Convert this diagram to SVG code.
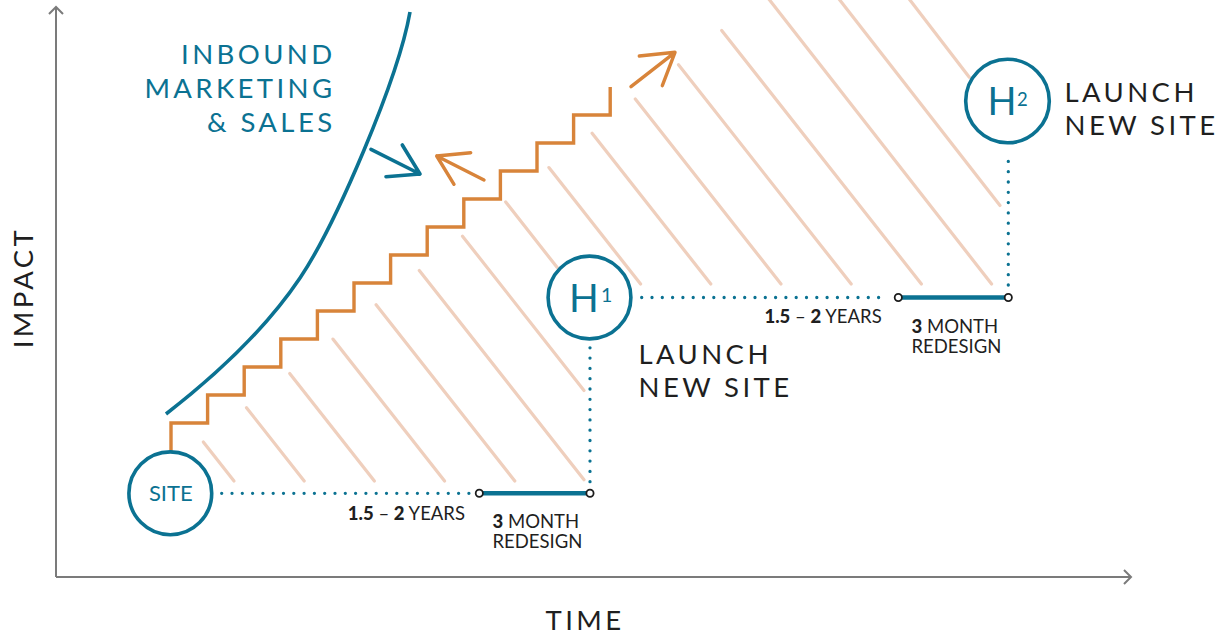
<svg xmlns="http://www.w3.org/2000/svg" width="1219" height="634" viewBox="0 0 1219 634">
<style>
.axis{fill:none;stroke:#7b7b7b;stroke-width:2}
.hatch line{stroke:#efcfbd;stroke-width:3.2;stroke-linecap:round}
.teal{fill:none;stroke:#0b7292;stroke-width:3.6}
.orange{fill:none;stroke:#d8843a;stroke-width:3.4}
.arrow{stroke-linecap:round;stroke-linejoin:round}
.dots{fill:none;stroke:#0b7292;stroke-width:3.3;stroke-linecap:round;stroke-dasharray:0 10.3}
.bar{stroke:#0b7292;stroke-width:4.6}
.end{fill:#fff;stroke:#1c1c1c;stroke-width:1.8}
.node{fill:#fff;stroke:#0b7292;stroke-width:3.6}
.big{font-family:Lato,"Liberation Sans",sans-serif;font-size:27.5px;letter-spacing:3.4px}
.dark{fill:#1f1f1f}
.tealtxt{fill:#0b7292}
.small{font-family:Lato,"Liberation Sans",sans-serif;font-size:18.5px;fill:#1f1f1f}
.b{font-weight:900}
.hnode{font-family:Lato,"Liberation Sans",sans-serif;fill:#0b7292}
</style>
<g id="axes">
<path class="axis" d="M56,577 V7 M49,14 L56,7 L63,14"/>
<path class="axis" d="M56,577 H1131 M1124,570 L1131,577 L1124,584"/>
<text class="big dark" transform="translate(33.3,287.5) rotate(-90)" text-anchor="middle">IMPACT</text>
<text class="big dark" x="585" y="630" text-anchor="middle">TIME</text>
</g>
<g id="hatch" class="hatch">
<line x1="203.3" y1="442" x2="234" y2="481"/>
<line x1="246.5" y1="407.7" x2="304.2" y2="481"/>
<line x1="289.7" y1="373.4" x2="374.4" y2="481"/>
<line x1="332.9" y1="339.1" x2="444.6" y2="481"/>
<line x1="376.1" y1="304.8" x2="514.8" y2="481"/>
<line x1="419.3" y1="270.5" x2="584" y2="479.7"/>
<line x1="462.5" y1="236.2" x2="584" y2="390.5"/>
<line x1="505.7" y1="201.9" x2="557" y2="267.3"/>
<line x1="548.9" y1="167.6" x2="640.6" y2="284"/>
<line x1="592.1" y1="133.3" x2="710.8" y2="284"/>
<line x1="635.3" y1="99" x2="781" y2="284"/>
<line x1="678.5" y1="64.7" x2="851.2" y2="284"/>
<line x1="721.7" y1="30.4" x2="921.4" y2="284"/>
<line x1="768" y1="-2" x2="991.6" y2="284"/>
<line x1="838.2" y1="-2" x2="1000" y2="205.5"/>
<line x1="908.4" y1="-2" x2="969.3" y2="77.3"/>
</g>
<g id="inbound-curve">
<path class="teal" d="M166,414 C215,376 265,330 300,278 S398,80 410,12"/>
<text class="big tealtxt" text-anchor="end"><tspan x="335.5" y="64">INBOUND</tspan><tspan x="335.5" y="98.3">MARKETING</tspan><tspan x="335.5" y="131.7">&amp; SALES</tspan></text>
</g>
<g id="stairs">
<path class="orange" d="M171,451 V423 H207.6 V395 H244.2 V367 H280.8 V339 H317.4 V311 H354 V283 H390.6 V255 H427.2 V227 H463.8 V199 H500.4 V171 H537 V143 H573.6 V115 H610.2 V87"/>
</g>
<g id="arrows">
<path class="teal arrow" d="M371,149.3 L420,174 M402.3,145 L420,174 L386,176.7"/>
<path class="orange arrow" d="M484,180 L436.7,156 M470.7,152.7 L436.7,156 L454,184.3"/>
<path class="orange arrow" d="M631,86.7 L675,52.3 M639.3,56 L675,52.3 L662.3,85.7"/>
</g>
<g id="connectors">
<path class="dots" d="M221.7,493.3 H470.5"/>
<path class="dots" d="M590,481.7 V347.3"/>
<path class="dots" d="M641.7,297.5 H888.4"/>
<path class="dots" d="M1008.3,285 V151.7"/>
<line class="bar" x1="479.3" y1="493.3" x2="590" y2="493.3"/>
<line class="bar" x1="898.3" y1="297.5" x2="1008.3" y2="297.5"/>
<circle class="end" cx="479.3" cy="493.3" r="3.6"/>
<circle class="end" cx="590" cy="493.3" r="3.6"/>
<circle class="end" cx="898.3" cy="297.5" r="3.6"/>
<circle class="end" cx="1008.3" cy="297.5" r="3.6"/>
<text class="small" x="465" y="519.5" text-anchor="end"><tspan class="b">1.5</tspan> – <tspan class="b">2</tspan> YEARS</text>
<text class="small"><tspan x="492.5" y="527.7"><tspan class="b">3</tspan> MONTH</tspan><tspan x="492.5" y="547.7">REDESIGN</tspan></text>
<text class="small" x="881.7" y="323" text-anchor="end"><tspan class="b">1.5</tspan> – <tspan class="b">2</tspan> YEARS</text>
<text class="small"><tspan x="911.5" y="332.7"><tspan class="b">3</tspan> MONTH</tspan><tspan x="911.5" y="352.7">REDESIGN</tspan></text>
</g>
<g id="node-site">
<circle class="node" cx="170.3" cy="493.3" r="41.4"/>
<text class="hnode" x="170.8" y="500.7" font-size="22" text-anchor="middle">SITE</text>
</g>
<g id="node-h1">
<circle class="node" cx="589.5" cy="297.5" r="41.4"/>
<text class="hnode" x="569" y="311.7" font-size="39">H</text>
<text class="hnode" x="601" y="301.7" font-size="19.5">1</text>
</g>
<g id="node-h2">
<circle class="node" cx="1007.5" cy="101" r="41.8"/>
<text class="hnode" x="987.5" y="115" font-size="38">H</text>
<text class="hnode" x="1017" y="105.5" font-size="18.5">2</text>
</g>
<g id="labels">
<text class="big dark"><tspan x="638.5" y="364">LAUNCH</tspan><tspan x="638.5" y="397.3">NEW SITE</tspan></text>
<text class="big dark"><tspan x="1064.5" y="101.7">LAUNCH</tspan><tspan x="1064.5" y="135">NEW SITE</tspan></text>
</g>
</svg>
